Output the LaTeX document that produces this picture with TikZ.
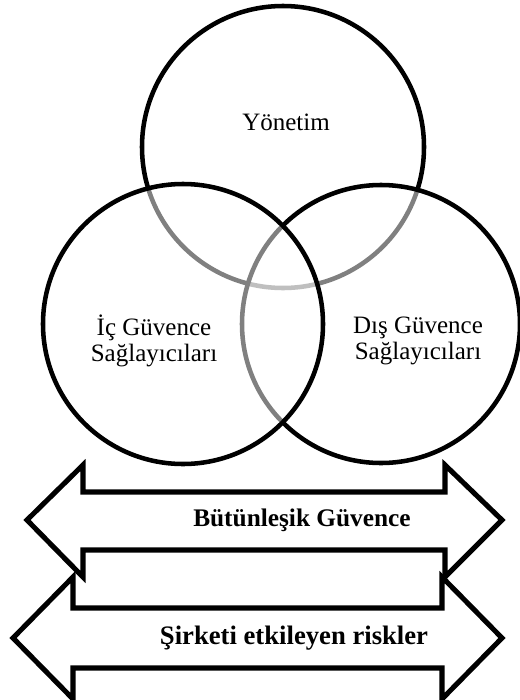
\documentclass[tikz,border=0pt]{standalone}
\usepackage{fontspec}
\setmainfont{Liberation Serif}
\tikzset{
  venn/.style={draw=black, line width=3.4pt, fill=white, fill opacity=0.5},
  dblarrow/.style={draw=black, line width=3.8pt, fill=white},
  circlabel/.style={inner sep=0.75pt, align=center, font=\fontsize{18.75}{19.5}\selectfont},
  arrowlabel/.style={inner sep=0.75pt, font=\fontsize{19}{22}\selectfont\bfseries}
}
\begin{document}
\begin{tikzpicture}[x=0.75pt,y=0.75pt,yscale=-1,xscale=1]
\useasboundingbox (0,0) rectangle (520,700);

%Shape: Circle [top]
\draw [venn] (283,147) circle [radius=141];
%Shape: Circle [right]
\draw [venn] (381,324) circle [radius=139];
%Shape: Circle [left]
\draw [venn] (183,324) circle [radius=140];

%Shape: Double Arrow [lower]
\draw [dblarrow] (13,638) -- (73,577) -- (73,608) -- (442,608) -- (442,577) -- (502,638) -- (442,699) -- (442,668) -- (73,668) -- (73,699) -- cycle ;
%Shape: Double Arrow [upper]
\draw [dblarrow] (27,520) -- (83,465) -- (83,492) -- (445,492) -- (445,465) -- (502,520) -- (445,577) -- (445,550) -- (83,550) -- (83,577) -- cycle ;

% Text Node
\node [circlabel] (yonetim) at (286,122) {Yönetim};
% Text Node
\node [circlabel] (ic) at (154,341) {İç Güvence\\Sağlayıcıları};
% Text Node
\node [circlabel] (dis) at (418,341) {Dış Güvence\\Sağlayıcıları};
% Text Node
\node [arrowlabel] (butun) at (302,520) {Bütünleşik Güvence};
% Text Node
\node [arrowlabel, font=\fontsize{20}{22}\selectfont\bfseries] (risk) at (294,638) {Şirketi etkileyen riskler};

\end{tikzpicture}
\end{document}
